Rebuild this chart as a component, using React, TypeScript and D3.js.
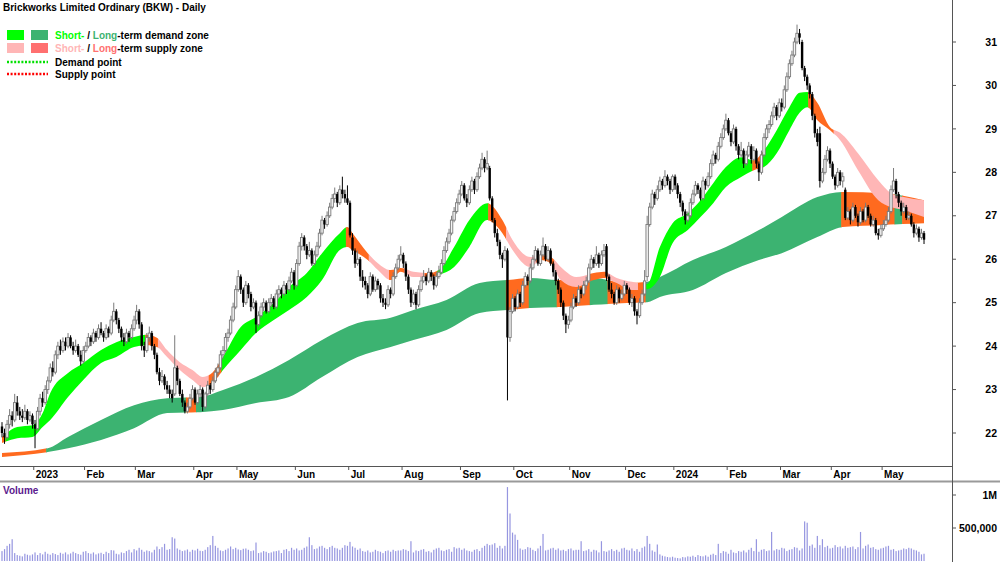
import React from 'react';
import * as d3 from 'd3';

type Candle = [number, number, number, number]; // open, high, low, close

// ---- Daily candles, one array per month ----
const dec22: Candle[] = [
  [22.15,22.25,21.9,22.0],[22.0,22.1,21.75,21.9],[21.9,22.3,21.85,22.2],[22.2,22.55,22.1,22.4],[22.4,22.5,22.15,22.3],
  [22.3,22.9,22.25,22.7],[22.7,22.85,22.4,22.5],[22.5,22.6,22.3,22.4],[22.4,22.55,22.25,22.35],[22.35,22.65,22.3,22.5],
  [22.5,22.55,22.2,22.3],[22.3,22.5,22.25,22.4],[22.4,22.45,22.1,22.2],
];
const jan23: Candle[] = [
  [22.2,22.3,21.65,22.1],[22.1,22.6,22.05,22.5],[22.5,22.9,22.4,22.8],[22.8,22.95,22.6,22.7],[22.7,23.1,22.65,23.0],
  [23.0,23.3,22.9,23.2],[23.2,23.6,23.15,23.5],[23.5,23.65,23.3,23.4],[23.4,23.9,23.35,23.8],[23.8,24.1,23.7,24.0],
  [24.0,24.15,23.8,23.9],[23.9,24.2,23.85,24.1],[24.1,24.2,23.9,24.0],[24.0,24.3,23.95,24.2],[24.2,24.25,23.95,24.0],
  [24.0,24.1,23.8,23.9],[23.9,24.15,23.85,24.0],[24.0,24.05,23.75,23.8],[23.8,23.9,23.55,23.65],[23.65,24.0,23.6,23.9],
];
const feb23: Candle[] = [
  [23.9,24.1,23.85,24.0],[24.0,24.3,23.95,24.2],[24.2,24.25,24.0,24.1],[24.1,24.4,24.05,24.3],[24.3,24.35,24.1,24.2],
  [24.2,24.5,24.15,24.4],[24.4,24.55,24.25,24.3],[24.3,24.35,24.1,24.2],[24.2,24.5,24.15,24.4],[24.4,24.45,24.2,24.3],
  [24.3,24.7,24.25,24.6],[24.6,25.0,24.55,24.8],[24.8,24.85,24.5,24.6],[24.6,24.65,24.3,24.4],[24.4,24.45,24.1,24.2],
  [24.2,24.3,24.0,24.1],[24.1,24.4,24.05,24.3],[24.3,24.35,24.1,24.2],[24.2,24.5,24.15,24.4],[24.4,24.7,24.35,24.6],
];
const mar23: Candle[] = [
  [24.6,24.95,24.5,24.8],[24.8,24.85,24.4,24.5],[24.5,24.55,23.9,24.0],[24.0,24.1,23.75,23.9],[23.9,24.3,23.85,24.2],
  [24.2,24.45,24.1,24.3],[24.3,24.35,23.9,24.0],[24.0,24.05,23.7,23.8],[23.8,23.85,23.35,23.4],[23.4,23.5,23.1,23.2],
  [23.2,23.45,23.15,23.3],[23.3,23.35,23.0,23.1],[23.1,23.2,22.9,23.0],[23.0,23.1,22.8,22.9],[22.9,23.0,22.7,22.8],
  [22.9,24.25,22.85,23.5],[23.5,23.55,23.1,23.2],[23.2,23.25,22.85,22.9],[22.9,23.0,22.6,22.7],[22.7,22.75,22.45,22.5],
  [22.5,22.7,22.45,22.6],[22.6,22.9,22.55,22.8],[22.8,23.1,22.75,23.0],
];
const apr23: Candle[] = [
  [23.0,23.05,22.65,22.7],[22.7,23.0,22.65,22.9],[22.9,23.1,22.8,23.0],[23.0,23.05,22.5,22.6],[22.6,22.95,22.55,22.9],
  [22.9,23.2,22.85,23.1],[23.1,23.15,22.9,23.0],[23.0,23.3,22.95,23.2],[23.2,23.5,23.15,23.4],[23.4,23.6,23.3,23.5],
  [23.5,23.9,23.45,23.8],[23.8,24.0,23.7,23.9],[23.9,24.3,23.85,24.2],[24.2,24.4,24.1,24.3],[24.3,24.7,24.25,24.6],
  [24.6,25.0,24.55,24.9],[24.9,25.4,24.85,25.3],
];
const may23: Candle[] = [
  [25.3,25.75,25.25,25.6],[25.6,25.65,25.2,25.3],[25.3,25.35,24.9,25.0],[25.0,25.5,24.95,25.4],[25.4,25.45,25.1,25.2],
  [25.2,25.25,24.8,24.9],[24.9,25.1,24.85,25.0],[25.0,25.05,24.3,24.5],[24.5,24.8,24.45,24.7],[24.7,25.0,24.65,24.9],
  [24.9,25.1,24.8,25.0],[25.0,25.05,24.75,24.8],[24.8,25.1,24.75,25.0],[25.0,25.2,24.9,25.1],[25.1,25.15,24.85,24.9],
  [24.9,25.3,24.85,25.2],[25.2,25.4,25.1,25.3],[25.3,25.35,25.1,25.2],[25.2,25.5,25.15,25.4],[25.4,25.45,25.2,25.3],
  [25.3,25.6,25.25,25.5],[25.5,25.8,25.45,25.7],[25.7,25.75,25.3,25.4],
];
const jun23: Candle[] = [
  [25.4,26.0,25.35,25.9],[25.9,26.4,25.85,26.3],[26.3,26.6,26.2,26.5],[26.5,26.55,26.2,26.3],[26.3,26.35,26.0,26.1],
  [26.1,26.4,26.05,26.2],[26.2,26.25,25.85,25.9],[25.9,26.2,25.85,26.1],[26.1,26.4,26.05,26.3],[26.3,26.7,26.25,26.6],
  [26.6,27.0,26.55,26.9],[26.9,26.95,26.7,26.8],[26.8,27.1,26.75,27.0],[27.0,27.3,26.95,27.2],[27.2,27.5,27.15,27.4],
  [27.4,27.65,27.3,27.5],[27.5,27.55,27.2,27.3],[27.3,27.7,27.25,27.6],[27.6,27.9,27.4,27.5],[27.5,27.6,27.3,27.4],
  [27.4,27.7,27.25,27.3],
];
const jul23: Candle[] = [
  [27.3,27.35,26.5,26.55],[26.5,26.6,26.1,26.2],[26.2,26.25,25.8,25.9],[25.9,26.2,25.85,26.0],[26.0,26.05,25.5,25.6],
  [25.6,25.75,25.35,25.5],[25.5,25.6,25.3,25.4],[25.4,25.45,25.1,25.2],[25.2,25.7,25.15,25.6],[25.6,25.65,25.25,25.3],
  [25.3,25.6,25.25,25.5],[25.5,25.55,25.3,25.4],[25.4,25.45,25.0,25.1],[25.1,25.2,24.9,25.0],[25.0,25.1,24.85,24.95],
  [24.95,25.4,24.9,25.3],[25.3,25.35,25.1,25.2],[25.2,25.7,25.15,25.6],[25.6,25.9,25.55,25.8],[25.8,26.1,25.75,26.0],
  [26.0,26.3,25.95,26.1],
];
const aug23: Candle[] = [
  [26.1,26.15,25.8,25.9],[25.9,25.95,25.5,25.6],[25.6,25.65,25.2,25.3],[25.3,25.35,24.9,25.0],[25.0,25.3,24.95,25.2],
  [25.2,25.25,24.85,24.95],[24.95,25.4,24.9,25.3],[25.3,25.6,25.25,25.5],[25.5,25.75,25.45,25.6],[25.6,25.65,25.4,25.5],
  [25.5,25.8,25.45,25.7],[25.7,25.75,25.5,25.6],[25.6,25.65,25.3,25.4],[25.4,25.7,25.35,25.6],[25.6,25.85,25.55,25.7],
  [25.7,26.0,25.65,25.9],[25.9,26.3,25.85,26.2],[26.2,26.5,26.15,26.4],[26.4,26.7,26.35,26.6],[26.6,27.0,26.55,26.9],
  [26.9,27.2,26.85,27.1],[27.1,27.4,27.05,27.3],[27.3,27.6,27.25,27.5],
];
const sep23: Candle[] = [
  [27.5,27.8,27.45,27.7],[27.7,27.75,27.35,27.4],[27.4,27.5,27.2,27.3],[27.3,27.7,27.25,27.6],[27.6,27.9,27.55,27.8],
  [27.8,27.85,27.5,27.6],[27.6,28.0,27.55,27.9],[27.9,28.2,27.85,28.1],[28.1,28.45,28.05,28.3],[28.3,28.35,28.0,28.1],
  [28.1,28.5,28.05,28.2],[28.1,28.15,27.35,27.4],[27.4,27.45,26.85,26.9],[26.9,26.95,26.5,26.6],[26.6,26.7,26.3,26.4],
  [26.4,26.45,26.0,26.1],[26.1,26.15,25.8,26.0],[26.0,26.3,25.95,26.2],[26.2,26.25,22.75,24.2],[24.2,24.9,24.1,24.8],
  [24.8,25.2,24.75,25.1],
];
const oct23: Candle[] = [
  [25.1,25.15,24.8,24.9],[24.9,25.3,24.85,25.2],[25.2,25.25,24.9,25.0],[25.0,25.5,24.95,25.4],[25.4,25.7,25.35,25.6],
  [25.6,25.65,25.4,25.5],[25.5,25.9,25.45,25.8],[25.8,26.1,25.75,26.0],[26.0,26.3,25.95,26.2],[26.2,26.25,25.85,25.9],
  [25.9,26.2,25.85,26.1],[26.1,26.5,26.05,26.3],[26.3,26.35,25.95,26.0],[26.0,26.3,25.95,26.2],[26.2,26.25,25.85,25.9],
  [25.9,25.95,25.6,25.7],[25.7,25.75,25.4,25.5],[25.5,25.55,25.2,25.3],[25.3,25.35,24.9,25.0],[25.0,25.05,24.6,24.7],
  [24.7,24.75,24.3,24.5],[24.5,24.7,24.4,24.6],
];
const nov23: Candle[] = [
  [24.6,25.0,24.55,24.9],[24.9,25.2,24.85,25.1],[25.1,25.15,24.9,25.0],[25.0,25.4,24.95,25.3],[25.3,25.35,25.1,25.2],
  [25.2,25.5,25.15,25.4],[25.4,25.6,25.3,25.5],[25.5,25.9,25.45,25.8],[25.8,26.1,25.75,26.0],[26.0,26.05,25.8,25.9],
  [25.9,26.3,25.85,26.1],[26.1,26.15,25.8,25.9],[25.9,26.2,25.85,26.1],[26.1,26.35,26.05,26.2],[26.3,26.35,25.5,25.6],
  [25.6,25.65,25.25,25.3],[25.3,25.45,25.1,25.2],[25.2,25.25,24.95,25.0],[25.0,25.4,24.95,25.3],[25.3,25.35,25.0,25.1],
  [25.1,25.3,25.05,25.2],[25.2,25.5,25.15,25.4],
];
const dec23: Candle[] = [
  [25.4,25.45,25.2,25.3],[25.3,25.35,24.95,25.0],[25.0,25.2,24.9,25.1],[25.1,25.15,24.7,24.8],[24.8,24.85,24.5,24.7],
  [24.7,25.1,24.65,25.0],[25.0,25.3,24.95,25.2],[25.2,25.75,25.15,25.5],[25.6,27.0,25.5,26.8],[26.8,27.3,26.75,27.2],
  [27.2,27.6,27.15,27.5],[27.5,27.55,27.25,27.4],[27.4,27.7,27.35,27.6],[27.6,27.9,27.55,27.8],[27.8,27.85,27.6,27.7],
  [27.7,28.05,27.65,27.9],[27.9,27.95,27.7,27.8],[27.8,27.85,27.5,27.6],[27.6,27.95,27.55,27.9],
];
const jan24: Candle[] = [
  [27.9,27.95,27.6,27.7],[27.7,27.75,27.4,27.5],[27.5,27.55,27.2,27.3],[27.3,27.35,27.0,27.1],[27.1,27.15,26.8,26.9],
  [26.9,27.1,26.85,27.0],[27.0,27.4,26.95,27.3],[27.3,27.6,27.25,27.5],[27.5,27.8,27.45,27.7],[27.7,27.75,27.5,27.6],
  [27.6,27.65,27.35,27.4],[27.4,27.9,27.35,27.8],[27.8,27.85,27.6,27.7],[27.7,28.0,27.65,27.9],[27.9,28.3,27.85,28.2],
  [28.2,28.5,28.15,28.4],[28.4,28.45,28.2,28.3],[28.3,28.7,28.25,28.6],[28.6,28.9,28.55,28.8],[28.8,29.1,28.75,29.0],
  [29.0,29.35,28.95,29.2],
];
const feb24: Candle[] = [
  [29.2,29.25,28.85,28.9],[28.9,28.95,28.6,28.7],[28.7,29.1,28.65,29.0],[29.0,29.05,28.5,28.6],[28.6,28.65,28.3,28.4],
  [28.4,28.7,28.35,28.5],[28.5,28.55,28.1,28.2],[28.2,28.5,28.15,28.4],[28.4,28.7,28.35,28.6],[28.6,28.65,28.2,28.3],
  [28.3,28.6,28.25,28.5],[28.5,28.55,28.1,28.2],[28.2,28.25,27.8,28.0],[28.0,28.5,27.95,28.4],[28.4,28.9,28.35,28.8],
  [28.8,29.1,28.75,29.0],[29.0,29.2,28.9,29.1],[29.1,29.4,29.05,29.3],[29.3,29.6,29.25,29.5],[29.5,29.55,29.2,29.3],
  [29.3,29.7,29.25,29.6],
];
const mar24: Candle[] = [
  [29.6,29.7,29.4,29.5],[29.5,30.0,29.45,29.9],[29.9,30.3,29.85,30.2],[30.2,30.6,30.15,30.5],[30.5,30.8,30.45,30.7],
  [30.7,31.1,30.65,31.0],[31.0,31.4,30.95,31.2],[31.2,31.3,30.95,31.1],[31.0,31.05,30.35,30.4],[30.4,30.45,30.1,30.2],
  [30.2,30.25,29.9,30.0],[30.0,30.05,29.7,29.8],[29.8,29.85,29.2,29.3],[29.3,29.35,28.8,28.9],[28.9,29.0,28.6,28.7],
  [28.9,29.05,27.65,27.8],[27.8,28.1,27.75,28.0],[28.0,28.4,27.95,28.3],[28.3,28.6,28.25,28.5],[28.5,28.55,28.1,28.2],
];
const apr24: Candle[] = [
  [28.2,28.25,27.85,27.9],[27.9,27.95,27.6,27.7],[27.7,28.1,27.65,28.0],[28.0,28.05,27.7,27.8],[27.8,28.0,27.65,27.9],
  [27.6,27.65,26.9,26.95],[26.95,27.2,26.9,27.1],[27.1,27.15,26.8,26.9],[26.9,27.3,26.85,27.2],[27.2,27.25,26.95,27.0],
  [27.0,27.05,26.75,26.85],[26.85,27.2,26.8,27.1],[27.1,27.15,26.85,26.9],[26.9,27.3,26.85,27.2],[27.2,27.25,26.95,27.0],
  [27.0,27.05,26.75,26.8],[26.8,27.0,26.75,26.9],[26.9,26.95,26.55,26.6],[26.6,26.7,26.45,26.55],[26.55,26.8,26.5,26.7],
];
const may24: Candle[] = [
  [26.7,26.9,26.65,26.8],[26.8,27.0,26.75,26.9],[26.9,27.2,26.85,27.1],[27.1,27.7,27.05,27.6],[27.6,28.1,27.55,27.8],
  [27.8,27.85,27.4,27.5],[27.5,27.55,27.2,27.3],[27.3,27.35,27.0,27.1],[27.1,27.3,27.05,27.2],[27.2,27.25,26.9,26.95],
  [26.95,27.1,26.9,27.0],[27.0,27.05,26.75,26.8],[26.8,26.85,26.5,26.6],[26.6,26.8,26.55,26.7],[26.7,26.75,26.4,26.5],
  [26.5,26.7,26.45,26.6],[26.6,26.65,26.35,26.45],
];

// ---- Daily volume (thousands of shares), one array per month ----
const volDec22 = [150,180,230,260,330,120,90,80,70,110,95,85,100];
const volJan23 = [130,90,120,100,140,110,95,120,105,90,125,110,130,100,115,140,120,105,95,140];
const volFeb23 = [150,120,110,130,100,115,125,105,140,120,165,160,110,100,130,120,150,170,130,180];
const volMar23 = [160,200,170,140,160,150,130,170,220,180,210,260,170,180,360,340,190,170,150,160,175,140,170];
const volApr23 = [160,185,155,150,170,210,240,380,230,200,160,150,170,190,220,180,200];
const volMay23 = [175,165,185,190,170,150,160,280,120,130,150,140,120,130,145,150,160,120,170,180,150,200,170];
const volJun23 = [190,160,170,200,220,360,240,180,190,220,230,200,180,210,230,200,190,170,200,240,230];
const volJul23 = [290,220,200,170,190,150,140,160,130,140,170,150,140,120,150,160,140,170,150,160,160];
const volAug23 = [180,170,150,300,130,160,150,170,180,140,150,130,170,190,200,160,150,170,180,140,210,190,200];
const volSep23 = [170,190,160,150,140,170,180,150,200,230,260,240,250,270,200,230,190,230,1120,720,430];
const volOct23 = [400,320,190,170,180,210,200,170,150,190,230,410,160,170,190,200,170,190,160,170,150,180];
const volNov23 = [190,160,170,170,300,150,160,180,140,170,160,130,300,150,140,160,180,150,170,140,190,200];
const volDec23 = [170,160,190,150,180,140,200,220,380,260,160,140,250,100,80,70,60,55,65];
const volJan24 = [50,45,40,60,55,70,65,80,60,90,75,70,85,65,95,110,90,260,120,150,140];
const volFeb24 = [110,170,130,120,150,140,160,130,170,200,150,330,140,170,180,150,160,440,160,180,170];
const volMar24 = [200,190,150,170,180,210,200,160,190,600,580,230,250,200,380,240,330,210,230,190];
const volApr24 = [200,240,210,220,190,230,200,210,220,180,210,440,190,230,250,200,210,180,170,190];
const volMay24 = [200,220,230,170,180,150,160,170,190,180,200,190,170,160,140,100,110];

const months: { label: string | null; candles: Candle[]; volume: number[] }[] = [
  { label: null, candles: dec22, volume: volDec22 },
  { label: '2023', candles: jan23, volume: volJan23 },
  { label: 'Feb', candles: feb23, volume: volFeb23 },
  { label: 'Mar', candles: mar23, volume: volMar23 },
  { label: 'Apr', candles: apr23, volume: volApr23 },
  { label: 'May', candles: may23, volume: volMay23 },
  { label: 'Jun', candles: jun23, volume: volJun23 },
  { label: 'Jul', candles: jul23, volume: volJul23 },
  { label: 'Aug', candles: aug23, volume: volAug23 },
  { label: 'Sep', candles: sep23, volume: volSep23 },
  { label: 'Oct', candles: oct23, volume: volOct23 },
  { label: 'Nov', candles: nov23, volume: volNov23 },
  { label: 'Dec', candles: dec23, volume: volDec23 },
  { label: '2024', candles: jan24, volume: volJan24 },
  { label: 'Feb', candles: feb24, volume: volFeb24 },
  { label: 'Mar', candles: mar24, volume: volMar24 },
  { label: 'Apr', candles: apr24, volume: volApr24 },
  { label: 'May', candles: may24, volume: volMay24 },
];

// ---- Zones: [day index, upper price, lower price] ----
const longZone: [number, number, number][] = [
  [0,21.54,21.45],[18,21.65,21.56],[26,21.91,21.65],[39,22.30,21.84],[52,22.64,22.11],[65,22.80,22.46],
  [78,22.83,22.48],[87,22.99,22.53],[100,23.29,22.69],[113,23.68,22.83],[126,24.14,23.29],[140,24.53,23.75],
  [153,24.65,23.98],[162,24.83,24.14],[175,25.06,24.37],[188,25.45,24.76],[199,25.52,24.83],[208,25.57,24.88],
  [220,25.52,24.90],[233,25.57,24.95],[246,25.45,24.99],[254,25.48,25.01],[259,25.59,25.13],[272,25.98,25.29],
  [285,26.28,25.68],[298,26.67,25.98],[307,26.97,26.14],[321,27.43,26.51],[331,27.55,26.74],[347,27.52,26.79],
  [363,27.36,26.83],
];
const shortZone: [number, number, number][] = [
  [0,21.91,21.77],[6,22.14,21.88],[12,22.18,21.91],[16,22.46,22.14],[19,22.92,22.30],[26,23.38,22.83],
  [32,23.61,23.22],[39,23.91,23.61],[45,24.09,23.75],[52,24.21,23.98],[57,24.26,24.02],[61,24.19,23.98],
  [65,23.91,23.75],[70,23.63,23.45],[75,23.45,23.22],[79,23.29,23.06],[83,23.40,23.15],[87,23.75,23.45],
  [94,24.44,23.91],[100,24.67,24.30],[107,24.99,24.60],[113,25.36,24.83],[120,25.68,25.13],[126,26.14,25.52],
  [133,26.60,26.21],[136,26.74,26.28],[138,26.60,26.21],[144,26.14,25.98],[148,25.91,25.75],[153,25.75,25.52],
  [157,25.80,25.71],[162,25.71,25.59],[168,25.68,25.59],[172,25.75,25.64],[178,26.28,25.82],[184,26.90,26.28],
  [191,27.29,26.90],[197,26.90,26.60],[201,26.44,26.21],[208,26.05,25.82],[212,26.10,25.98],[216,26.05,25.91],
  [220,25.82,25.52],[226,25.59,25.36],[233,25.68,25.52],[237,25.71,25.57],[242,25.57,25.45],[248,25.48,25.29],
  [254,25.43,25.31],[259,26.28,25.59],[264,26.83,26.37],[270,27.06,26.67],[275,27.36,26.97],[280,27.75,27.29],
  [285,28.12,27.66],[291,28.35,27.89],[296,28.28,28.05],[300,28.51,28.12],[305,28.97,28.44],[310,29.50,28.97],
  [314,29.83,29.37],[317,29.85,29.50],[321,29.60,29.20],[326,29.04,28.97],[330,28.91,28.74],[337,28.44,28.05],
  [345,27.82,27.36],[350,27.52,27.20],[355,27.43,27.13],[363,27.36,26.97],
];
// colour state of each zone: [from day, to day, state]
const shortStates: [number, number, string][] = [
  [0,2,'turn'],[2,57,'demand'],[57,62,'turn'],[62,82,'supply'],[82,87,'turn'],[87,136,'demand'],
  [136,145,'turn'],[145,153,'supply'],[153,159,'turn'],[159,167,'supply'],[167,172,'turn'],[172,192,'demand'],
  [192,199,'turn'],[199,211,'supply'],[211,218,'turn'],[218,232,'supply'],[232,239,'turn'],[239,251,'supply'],
  [251,254,'turn'],[254,296,'demand'],[296,300,'turn'],[300,318,'demand'],[318,328,'turn'],[328,364,'supply'],
];
const longStates: [number, number, string][] = [
  [0,18,'supply'],[18,73,'demand'],[73,77,'supply'],[77,199,'demand'],[199,208,'supply'],[208,219,'demand'],
  [219,232,'supply'],[232,239,'demand'],[239,254,'supply'],[254,331,'demand'],[331,352,'supply'],
  [352,355,'demand'],[355,364,'supply'],
];

const priceTicks = [22, 23, 24, 25, 26, 27, 28, 29, 30, 31];
const volumeTicks: [number, string][] = [[1000000, '1M'], [500000, '500,000']];

const C = {
  shortDemand: '#00ff00',
  longDemand: '#3cb371',
  shortSupply: '#ffb6b6',
  longSupply: '#ff7070',
  zoneSupply: '#ff6a1f',
  volume: '#9696e0',
};
const shortFill: Record<string, string> = { demand: C.shortDemand, supply: C.shortSupply, turn: C.zoneSupply };
const longFill: Record<string, string> = { demand: C.longDemand, supply: C.zoneSupply };

const FONT = '"Liberation Sans", Arial, sans-serif';
const STEP = 2.54;

export default function App() {
  const candles = months.flatMap((m) => m.candles);
  const volumes = months.flatMap((m) => m.volume);
  let acc = 0;
  const ticks = months
    .map((m) => {
      const s = acc;
      acc += m.candles.length;
      return { label: m.label, i: s };
    })
    .filter((t) => t.label);

  const n = candles.length;
  const x = d3.scaleLinear().domain([0, n - 1]).range([2, 2 + (n - 1) * STEP]);
  const y = d3.scaleLinear().domain([22, 31]).range([433, 42]);
  const yv = d3.scaleLinear().domain([0, 1000000]).range([561, 495]);

  const area = d3
    .area<[number, number, number]>()
    .x((d) => x(d[0]))
    .y0((d) => y(d[2]))
    .y1((d) => y(d[1]))
    .curve(d3.curveMonotoneX);
  const longPath = area(longZone) || '';
  const shortPath = area(shortZone) || '';

  const half = STEP / 2;
  const clipX = (s: number) => x(s) - half;

  return (
    <svg
      width={1000}
      height={562}
      style={{ position: 'absolute', left: 0, top: 0, background: '#fff' }}
      fontFamily={FONT}
    >
      <defs>
        <clipPath id="pricePanel">
          <rect x={0} y={0} width={952} height={466} />
        </clipPath>
        {longStates.map(([s, e], k) => (
          <clipPath id={`lz${k}`} key={`lz${k}`}>
            <rect x={clipX(s) - 0.3} y={0} width={clipX(e) - clipX(s) + 0.6} height={466} />
          </clipPath>
        ))}
        {shortStates.map(([s, e], k) => (
          <clipPath id={`sz${k}`} key={`sz${k}`}>
            <rect x={clipX(s) - 0.3} y={0} width={clipX(e) - clipX(s) + 0.6} height={466} />
          </clipPath>
        ))}
      </defs>

      <g clipPath="url(#pricePanel)">
        {longStates.map(([, , st], k) => (
          <path key={`l${k}`} d={longPath} fill={longFill[st]} clipPath={`url(#lz${k})`} />
        ))}
        {shortStates.map(([, , st], k) => (
          <path key={`s${k}`} d={shortPath} fill={shortFill[st]} clipPath={`url(#sz${k})`} />
        ))}
        {candles.map(([o, h, l, c], i) => {
          const up = c >= o;
          const cx = x(i);
          const top = y(Math.max(o, c));
          const bot = y(Math.min(o, c));
          const col = up ? '#7a7a7a' : '#000';
          return (
            <g key={i}>
              <line x1={cx} x2={cx} y1={y(h)} y2={y(l)} stroke={col} strokeWidth={1} />
              {up ? (
                <rect x={cx - 1.2} y={top} width={2.4} height={Math.max(bot - top, 0.8)} fill="#f4f4f4" stroke={col} strokeWidth={0.9} />
              ) : (
                <rect x={cx - 1.2} y={top} width={2.4} height={Math.max(bot - top, 0.8)} fill="#000" />
              )}
            </g>
          );
        })}
      </g>

      {/* title + legend */}
      <text x={3} y={11} fontSize={10} fontWeight="bold" fill="#000">
        Brickworks Limited Ordinary (BKW) - Daily
      </text>
      <rect x={7} y={30} width={17} height={10} fill={C.shortDemand} />
      <rect x={31} y={30} width={17} height={10} fill={C.longDemand} />
      <rect x={7} y={43} width={17} height={10} fill={C.shortSupply} />
      <rect x={31} y={43} width={17} height={10} fill={C.longSupply} />
      <line x1={7} x2={48} y1={62} y2={62} stroke="#00e000" strokeWidth={2.5} strokeDasharray="2,1.6" />
      <line x1={7} x2={48} y1={74} y2={74} stroke="#ff0000" strokeWidth={2.5} strokeDasharray="2,1.6" />
      <text x={55} y={38.5} fontSize={10} fontWeight="bold" fill="#000">
        <tspan fill={C.shortDemand}>Short-</tspan> / <tspan fill={C.longDemand}>Long</tspan>-term demand zone
      </text>
      <text x={55} y={51.5} fontSize={10} fontWeight="bold" fill="#000">
        <tspan fill={C.shortSupply}>Short-</tspan> / <tspan fill={C.longSupply}>Long</tspan>-term supply zone
      </text>
      <text x={55} y={65.5} fontSize={10} fontWeight="bold" fill="#000">Demand point</text>
      <text x={55} y={78} fontSize={10} fontWeight="bold" fill="#000">Supply point</text>

      {/* time axis strip */}
      <line x1={0} x2={952} y1={466.5} y2={466.5} stroke="#555" strokeWidth={1} />
      {ticks.map((t) => (
        <g key={t.i}>
          <line x1={clipX(t.i)} x2={clipX(t.i)} y1={466.5} y2={470} stroke="#555" strokeWidth={1} />
          <text x={clipX(t.i) + 2} y={478} fontSize={10} fontWeight="bold" fill="#000">
            {t.label}
          </text>
        </g>
      ))}
      <line x1={0} x2={1000} y1={481.5} y2={481.5} stroke="#9a9a9a" strokeWidth={2} />

      {/* volume */}
      <text x={3} y={494} fontSize={10} fontWeight="bold" fill="#5b1a8e">Volume</text>
      {volumes.map((v, i) => (
        <rect key={i} x={x(i) - 0.6} y={yv(v * 1000)} width={1.2} height={561 - yv(v * 1000)} fill={C.volume} />
      ))}

      {/* right axis */}
      <line x1={952.5} x2={952.5} y1={0} y2={562} stroke="#555" strokeWidth={1} />
      {priceTicks.map((p) => (
        <g key={p}>
          <line x1={952} x2={956} y1={y(p)} y2={y(p)} stroke="#555" strokeWidth={1} />
          <text x={997} y={y(p)} dy="0.35em" textAnchor="end" fontSize={10.5} fontWeight="bold" fill="#000">
            {p}
          </text>
        </g>
      ))}
      {volumeTicks.map(([v, lab]) => (
        <g key={lab}>
          <line x1={952} x2={956} y1={yv(v)} y2={yv(v)} stroke="#555" strokeWidth={1} />
          <text x={997} y={yv(v)} dy="0.35em" textAnchor="end" fontSize={10.5} fontWeight="bold" fill="#000">
            {lab}
          </text>
        </g>
      ))}
    </svg>
  );
}
